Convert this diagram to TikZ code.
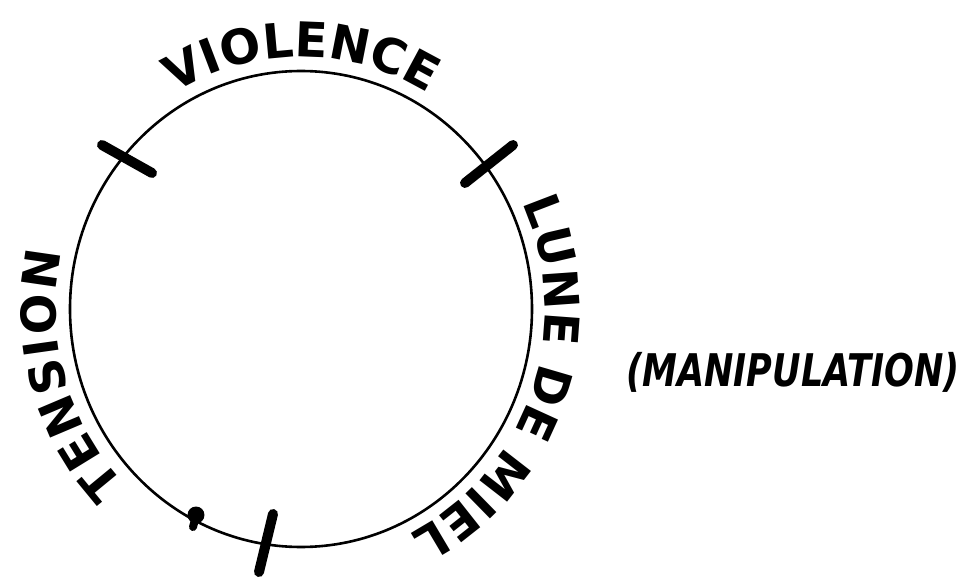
\documentclass[tikz,border=0pt]{standalone}
\usepackage{fontspec}
\setmainfont{DejaVu Sans}
\newfontfamily\manipfamily[FakeStretch=0.78]{DejaVu Sans}
\usetikzlibrary{decorations.text}
\newcommand{\phasefont}{\fontsize{48}{48}\selectfont\bfseries}

\begin{document}
\begin{tikzpicture}[x=1pt, y=1pt,
  cycle/.style={line width=2.6pt},
  tickmark/.style={line width=10pt, line cap=round},
  phase/.style={decorate, decoration={text along path, text align={fit to path}, text={|\phasefont|#1}}}]
\useasboundingbox (-301,-269) rectangle (670,309);
\draw[cycle] (0,0) ellipse [x radius=231, y radius=238];
% phase boundaries
\draw[tickmark] (-199,164) -- (-149,136);
\draw[tickmark] (212,164) -- (164,126);
\draw[tickmark] (-28,-205) -- (-42,-263);
\fill (-105,-206) circle (8.5);
\draw[line width=8pt, line cap=round] (-105,-207) -- (-108,-218);
% phase names
\path[phase=VIOLENCE] (121:245 and 252) arc[start angle=121, end angle=61, x radius=245, y radius=252];
\path[phase=LUNE DE MIEL] (25:244 and 251) arc[start angle=25, end angle=-63.5, x radius=244, y radius=251];
\path[phase=TENSION] (224:245 and 252) arc[start angle=224, end angle=167, x radius=245, y radius=252];
\node[font={\manipfamily\fontsize{45}{45}\selectfont\bfseries\itshape}] (manip) at (793-301,-63) {(MANIPULATION)};
\end{tikzpicture}
\end{document}
